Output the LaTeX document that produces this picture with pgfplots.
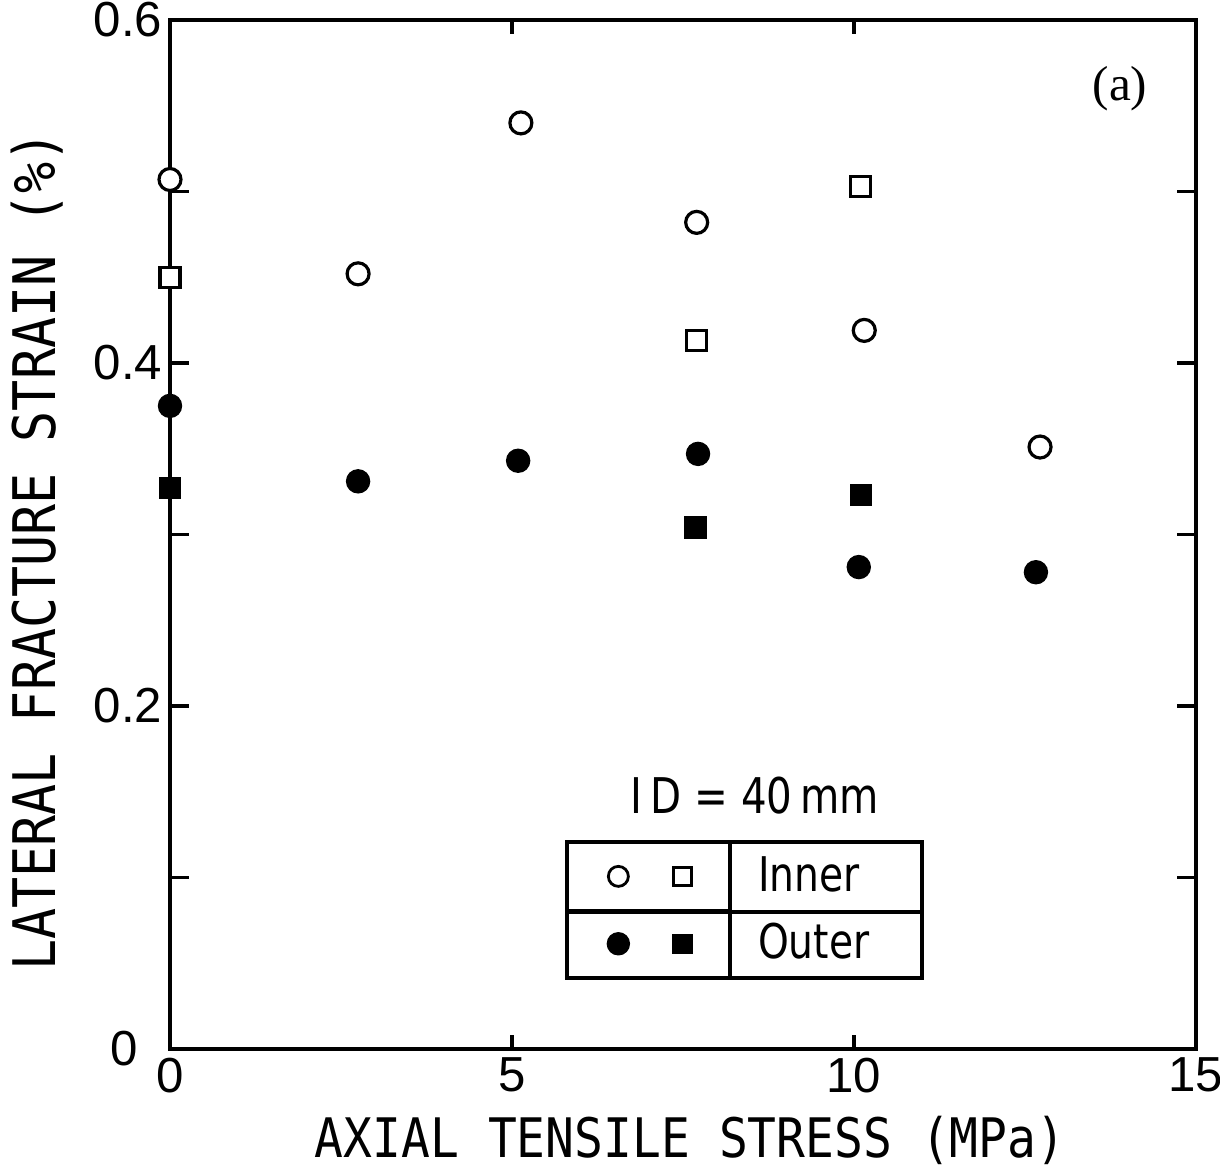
\documentclass[border=0pt]{standalone}
\usepackage{fontspec}
\setmainfont{Liberation Sans}
\newfontfamily\labfont{DejaVu Sans Mono}[FakeStretch=0.88]
\newfontfamily\condfont{DejaVu Sans}[FakeStretch=0.82]
\newfontfamily\seriffont{Liberation Serif}
\usepackage{pgfplots}
\pgfplotsset{compat=1.18}
\begin{document}
\begin{tikzpicture}
\begin{axis}[
  scale only axis, width=102.6mm, height=102.9mm,
  xmin=0, xmax=15, ymin=0, ymax=0.6,
  clip=false,
  axis line style={line width=1.3pt, black},
  xtick={0,5,10,15}, ytick={0,0.2,0.4,0.6}, minor ytick={0.1,0.3,0.5},
  xticklabels={0,5,10,15},
  yticklabels={{0\hspace*{2.4mm}},0.2,0.4,0.6},
  tick align=inside,
  major tick length=1.9mm, minor tick length=1.9mm,
  xtick style={line width=1pt, black, /pgfplots/major tick length=1.4mm},
  ytick style={line width=1pt, black},
  minor y tick style={line width=1pt, black},
  /pgf/number format/assume math mode=true,
  tick label style={font=\fontsize{14}{16}\selectfont},
  xticklabel style={inner sep=0.8mm},
  yticklabel style={inner sep=0.7mm},
  xlabel={AXIAL TENSILE STRESS (MPa)},
  xlabel style={font=\labfont\fontsize{15.5}{18}\selectfont, at={([yshift=-9.1mm]axis description cs:0.507,0)}, anchor=center},
  ylabel={LATERAL FRACTURE STRAIN (\%)},
  ylabel style={font=\labfont\fontsize{16.7}{18}\selectfont, at={([xshift=-13.3mm]axis description cs:0,0.484)}, anchor=center},
  legend style={at={(axis description cs:0.3869,0.2012)}, anchor=north west, draw=none, fill=none, inner sep=0pt, row sep=0pt, column sep=1.9mm, font=\condfont\fontsize{13.6}{16}\selectfont, cells={anchor=west}},
]
% Inner, circles
\addplot[only marks, forget plot, mark=*, mark size=1.1mm, mark options={draw=black, fill=white, line width=0.32mm}] coordinates {
(0,0.507) (2.75,0.452) (5.13,0.540) (7.70,0.482) (10.15,0.419) (12.72,0.351)};
% Inner, squares
\addplot[only marks, forget plot, mark=square*, mark size=1.0mm, mark options={draw=black, fill=white, line width=0.32mm}] coordinates {
(0,0.450) (7.70,0.413) (10.10,0.503)};
% Outer, circles
\addplot[only marks, forget plot, mark=*, mark size=1.15mm, mark options={draw=black, fill=black}] coordinates {
(0,0.375) (2.75,0.331) (5.09,0.343) (7.72,0.347) (10.07,0.281) (12.66,0.278)};
% Outer, squares
\addplot[only marks, forget plot, mark=square*, mark size=1.05mm, mark options={draw=black, fill=black}] coordinates {
(0,0.327) (7.68,0.304) (10.10,0.323)};

\addlegendimage{legend image code/.code={
  \path (-5mm,-3.3mm) rectangle (11.3mm,3.3mm);
  \draw[line width=0.28mm, fill=white] (0,0) circle (1.0mm);
  \draw[line width=0.28mm, fill=white] (5.5mm,-0.9mm) rectangle (7.3mm,0.9mm);
}}
\addlegendentry{Inner}
\addlegendimage{legend image code/.code={
  \path (-5mm,-3.3mm) rectangle (11.3mm,3.3mm);
  \fill[black] (0,0) circle (1.1mm);
  \fill[black] (5.45mm,-0.95mm) rectangle (7.35mm,0.95mm);
}}
\addlegendentry{Outer}

\draw[line width=0.9pt] (axis cs:5.804,0.0414) rectangle (axis cs:10.994,0.1207);
\draw[line width=0.9pt] (axis cs:8.187,0.0414) -- (axis cs:8.187,0.1207);
\draw[line width=0.9pt] (axis cs:5.804,0.0799) -- (axis cs:10.994,0.0799);
\node[font=\condfont\fontsize{14}{16}\selectfont] at (axis cs:8.55,0.1475) {I\,D = 40\,mm};
\node[font=\seriffont\fontsize{14}{16}\selectfont] at (axis cs:13.89,0.5598) {(a)};
\end{axis}
\pgfresetboundingbox
\path[use as bounding box] ([shift={(-17mm,-12mm)}]current axis.south west) rectangle ([shift={(105mm,104.9mm)}]current axis.south west);
\end{tikzpicture}
\end{document}
